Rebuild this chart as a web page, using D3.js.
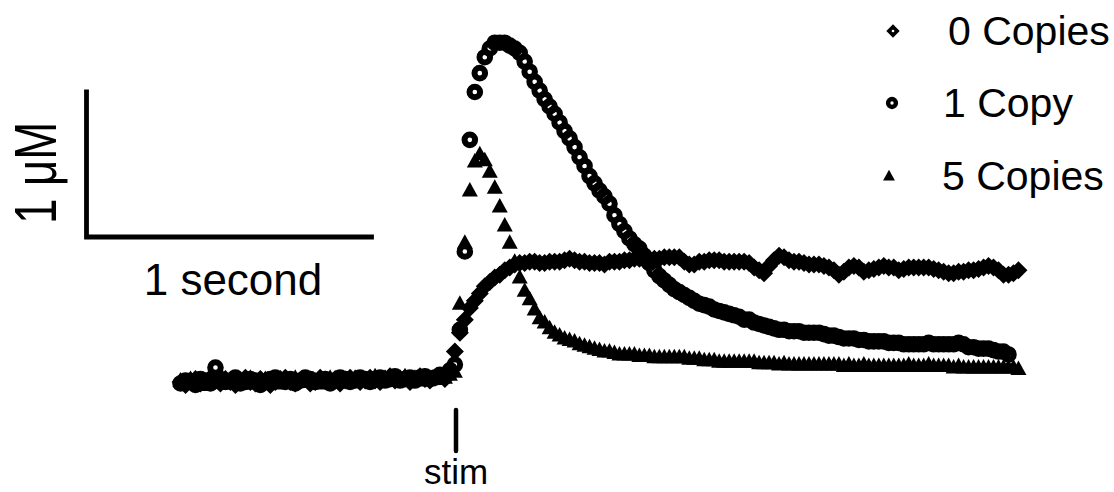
<!DOCTYPE html>
<html><head><meta charset="utf-8">
<script src="https://cdn.jsdelivr.net/npm/d3@7"></script>
<style>
html,body{margin:0;background:#fff;}
svg{display:block;}
text{font-family:"Liberation Sans",Arial,Helvetica,sans-serif;fill:#000;}
</style>
</head><body>
<svg id="chart" width="1114" height="492"></svg>
<script>
// Sampling grid (seconds relative to stimulus)
const sampleStart = -0.97;
const sampleStep = 0.0175;

const seriesNames = ["0 Copies", "1 Copy", "5 Copies"];

// Concentration change (µM) for each sample
const zeroCopies = [
  0.00,-0.02,0.01,0.02,-0.01, 0.00,0.03,0.01,-0.01,0.02, 0.00,-0.02,0.01,0.03,0.00,
  -0.01,0.02,0.01,-0.02,0.00, 0.02,0.03,0.00,-0.01,0.01, 0.02,-0.01,0.00,0.03,0.01,
  0.00,0.02,-0.01,0.01,0.03, 0.02,0.00,0.01,0.03,0.01, 0.00,0.02,0.04,0.01,0.02,
  0.03,0.00,0.02,0.04,0.02, 0.01,0.03,0.04,0.02,0.08,
  0.21,0.34,0.43,0.51,0.56, 0.61,0.66,0.69,0.72,0.74, 0.77,0.79,0.81,0.82,0.82,
  0.83,0.83,0.82,0.82,0.83, 0.83,0.83,0.84,0.85,0.84, 0.83,0.83,0.82,0.82,0.82,
  0.81,0.83,0.83,0.83,0.84, 0.84,0.85,0.85,0.84,0.84, 0.85,0.85,0.86,0.86,0.86,
  0.86,0.83,0.81,0.81,0.83, 0.83,0.84,0.84,0.84,0.83, 0.83,0.83,0.83,0.83,0.82,
  0.79,0.77,0.75,0.80,0.84, 0.87,0.86,0.84,0.83,0.83, 0.82,0.81,0.81,0.81,0.80,
  0.79,0.77,0.74,0.76,0.79, 0.80,0.79,0.76,0.77,0.78, 0.79,0.80,0.79,0.79,0.77,
  0.78,0.79,0.79,0.79,0.79, 0.79,0.78,0.77,0.76,0.75, 0.75,0.76,0.76,0.77,0.77,
  0.78,0.79,0.80,0.79,0.77, 0.74,0.74,0.75,0.77
];

const oneCopy = [
  -0.01,0.01,0.00,-0.02,0.02, 0.01,-0.01,0.10,0.02,0.00, 0.01,0.03,-0.01,0.00,0.02,
  0.01,-0.02,0.00,0.02,0.03, 0.01,0.00,0.02,-0.01,0.01, 0.03,0.02,0.00,0.01,0.02,
  -0.01,0.01,0.03,0.02,0.00, 0.01,0.03,0.02,0.00,0.02, 0.03,0.01,0.02,0.04,0.01,
  0.02,0.03,0.01,0.03,0.04, 0.02,0.03,0.05,0.04,0.08,
  0.12,0.36,0.90,1.67,2.00, 2.13,2.24,2.30,2.34,2.34, 2.34,2.32,2.30,2.27,2.21,
  2.14,2.07,2.01,1.95,1.90, 1.85,1.79,1.73,1.68,1.62, 1.55,1.49,1.42,1.37,1.32,
  1.28,1.23,1.15,1.09,1.04, 0.99,0.95,0.92,0.87,0.82, 0.77,0.73,0.70,0.67,0.64,
  0.62,0.60,0.58,0.56,0.54, 0.53,0.52,0.50,0.49,0.48, 0.47,0.46,0.45,0.43,0.43,
  0.41,0.40,0.39,0.38,0.37, 0.36,0.36,0.35,0.35,0.35, 0.34,0.34,0.34,0.34,0.33,
  0.32,0.32,0.31,0.30,0.30, 0.30,0.29,0.29,0.28,0.28, 0.28,0.28,0.27,0.27,0.27,
  0.26,0.26,0.26,0.26,0.26, 0.27,0.26,0.26,0.26,0.26, 0.26,0.27,0.26,0.24,0.24,
  0.23,0.23,0.23,0.22,0.21, 0.21,0.19
];

const fiveCopies = [
  0.01,-0.01,0.02,0.00,0.01, -0.02,0.00,0.02,0.01,-0.01, 0.02,0.00,0.01,-0.01,0.03,
  0.00,0.01,0.02,0.00,-0.01, 0.01,0.02,0.00,0.03,0.01, 0.00,0.02,0.01,-0.01,0.02,
  0.03,0.01,0.00,0.02,0.01, 0.03,0.02,0.01,0.02,0.04, 0.01,0.03,0.02,0.01,0.03,
  0.04,0.02,0.03,0.01,0.04, 0.03,0.02,0.04,0.03,0.05,
  0.07,0.54,0.96,1.32,1.52, 1.57,1.53,1.45,1.34,1.21, 1.08,0.96,0.83,0.72,0.63,
  0.57,0.50,0.44,0.41,0.37, 0.34,0.32,0.30,0.29,0.28, 0.26,0.25,0.24,0.23,0.22,
  0.21,0.21,0.20,0.19,0.19, 0.19,0.19,0.18,0.18,0.18, 0.17,0.17,0.17,0.17,0.17,
  0.17,0.17,0.16,0.16,0.16, 0.15,0.15,0.15,0.14,0.14, 0.14,0.14,0.14,0.14,0.14,
  0.14,0.13,0.13,0.13,0.13, 0.12,0.13,0.12,0.12,0.12, 0.12,0.12,0.12,0.12,0.12,
  0.12,0.12,0.12,0.11,0.12, 0.11,0.11,0.12,0.11,0.11, 0.11,0.11,0.11,0.11,0.11,
  0.11,0.12,0.11,0.11,0.11, 0.12,0.11,0.11,0.11,0.11, 0.10,0.11,0.10,0.10,0.10,
  0.10,0.10,0.10,0.10,0.10, 0.10,0.10,0.10,0.09
];

// Scale-bar extents
const scaleBarTime = [-1.3, -0.3];   // 1 second
const scaleBarConc = [1, 2];         // 1 µM
const stimTime = 0;

const svg = d3.select("#chart");
const x = d3.scaleLinear().domain([0, 1]).range([457, 742]);
const y = d3.scaleLinear().domain([0, 1]).range([382, 237]);

const toPoints = vals => vals.map((v, i) => ({ t: sampleStart + i * sampleStep, v }));

function addMarker(sel, kind, s, hole) {
  if (kind === 0) {
    const h = 9 * s;
    sel.append("path").attr("d", `M0,${-h}L${h},0L0,${h}L${-h},0Z`).attr("fill", "#000");
    if (hole) sel.append("circle").attr("r", 1.3).attr("fill", "#fff");
  } else if (kind === 1) {
    sel.append("circle").attr("r", 5.3 * s).attr("fill", "none")
      .attr("stroke", "#000").attr("stroke-width", 6 * s);
  } else {
    sel.append("path")
      .attr("d", `M0,${-8.5 * s}L${8 * s},${6 * s}L${-8 * s},${6 * s}Z`)
      .attr("fill", "#000");
  }
}

const data = [zeroCopies, oneCopy, fiveCopies];
data.forEach((vals, k) => {
  const g = svg.append("g").attr("class", "series-" + k);
  const m = g.selectAll("g").data(toPoints(vals)).join("g")
    .attr("transform", d => `translate(${x(d.t)},${y(d.v)})`);
  addMarker(m, k, 1, false);
});

// Scale bars
svg.append("path")
  .attr("d", `M${x(scaleBarTime[0])},${y(scaleBarConc[1])}V${y(scaleBarConc[0])}H${x(scaleBarTime[1])}`)
  .attr("fill", "none").attr("stroke", "#000").attr("stroke-width", 4.8)
  .attr("stroke-linecap", "square");

svg.append("text")
  .attr("transform", `translate(56,173) rotate(-90) scale(0.76,1)`)
  .attr("text-anchor", "middle").attr("font-size", 60)
  .text("1 \u03BCM");

svg.append("text")
  .attr("x", 233).attr("y", 295)
  .attr("text-anchor", "middle").attr("font-size", 44)
  .text("1 second");

// Stimulus marker
svg.append("line")
  .attr("x1", x(stimTime) - 1).attr("x2", x(stimTime) - 1)
  .attr("y1", 410).attr("y2", 451)
  .attr("stroke", "#000").attr("stroke-width", 4.5).attr("stroke-linecap", "round");
svg.append("text")
  .attr("x", x(stimTime) - 1).attr("y", 484)
  .attr("text-anchor", "middle").attr("font-size", 35)
  .text("stim");

// Legend
const legendY = [31, 103, 176];
const legendMarkX = [893, 892, 889];
const legendTextX = [948, 943, 942];
seriesNames.forEach((name, k) => {
  const g = svg.append("g").attr("transform", `translate(${legendMarkX[k]},${legendY[k]})`);
  addMarker(g, k, 0.74, true);
  svg.append("text").attr("x", legendTextX[k]).attr("y", legendY[k] + 14)
    .attr("font-size", 41).text(name);
});
</script>
</body></html>
